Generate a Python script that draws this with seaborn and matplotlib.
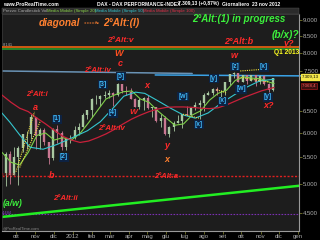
import numpy as np
import pandas as pd
import matplotlib
matplotlib.use("Agg")
import matplotlib.pyplot as plt
import seaborn as sns
from matplotlib.patches import Rectangle, FancyArrowPatch
from matplotlib.ticker import FixedLocator, NullLocator, FixedFormatter

sns.set_theme(style="dark")
plt.rcParams['font.family'] = ['Liberation Sans', 'DejaVu Sans']

# ---------------- data (weekly candles) ----------------
week_end = pd.date_range("2011-09-09", periods=64, freq="W-FRI")
first_open = 5540
week_close = [5190, 5570, 5160, 5500, 5680, 5970, 5970, 6350, 5930, 6060, 5800, 5490, 6080, 5990, 5700, 5880, 5900,
              6060, 6140, 6400, 6510, 6770, 6790, 6850, 6870, 6920, 6880, 7160, 6990, 6950, 6780, 6580, 6760, 6810,
              6560, 6580, 6270, 6340, 5980, 6130, 6230, 6260, 6420, 6410, 6560, 6630, 6690, 6890, 6940, 7040, 6970,
              6970, 7210, 7410, 7450, 7220, 7400, 7230, 7380, 7200, 7360, 7160, 7000, 7310]
week_high = [5560, 5600, 5620, 5710, 5730, 5980, 6050, 6430, 6350, 6120, 6120, 5800, 6120, 6170, 6050, 5900, 5960,
             6150, 6220, 6450, 6520, 6800, 6870, 6870, 6980, 7000, 6950, 7190, 7160, 7110, 7050, 6800, 6810, 6840,
             6870, 6590, 6520, 6420, 6380, 6160, 6270, 6400, 6430, 6610, 6590, 6710, 6750, 6920, 6990, 7060, 7090,
             7000, 7220, 7410, 7480, 7450, 7400, 7400, 7400, 7400, 7380, 7380, 7180, 7310]
week_low = [5180, 4965, 5000, 5150, 4970, 5600, 5670, 5880, 5660, 5660, 5750, 5360, 5450, 5780, 5650, 5650, 5780,
            5880, 5960, 6140, 6300, 6360, 6660, 6620, 6810, 6810, 6620, 6860, 6920, 6880, 6770, 6580, 6530, 6520,
            6540, 6350, 6240, 6140, 5960, 5910, 6040, 6230, 6110, 6400, 6410, 6520, 6320, 6490, 6880, 6870, 6890,
            6840, 6880, 7130, 7320, 7200, 7220, 7150, 7230, 7100, 7150, 7140, 6950, 6990]

ma20_dates = ['2011-09-08', '2011-09-23', '2011-10-07', '2011-10-21', '2011-11-04', '2011-11-18', '2011-12-02',
              '2011-12-16', '2011-12-30', '2012-01-13', '2012-01-27', '2012-02-10', '2012-02-24', '2012-03-09',
              '2012-03-23', '2012-04-06', '2012-04-20', '2012-05-04', '2012-05-18', '2012-06-01', '2012-06-15',
              '2012-06-29', '2012-07-13', '2012-07-27', '2012-08-10', '2012-08-24', '2012-09-07', '2012-09-21',
              '2012-10-05', '2012-10-19', '2012-11-02', '2012-11-16', '2012-11-23']
ma20 = [5600, 5400, 5350, 5600, 5950, 6000, 5850, 5900, 5850, 5990, 6230, 6500, 6780, 6880, 6960, 6980, 6780,
        6700, 6500, 6330, 6170, 6200, 6400, 6500, 6750, 6920, 7000, 7250, 7340, 7310, 7290, 7200, 7170]

ma50_dates = ['2011-09-08', '2011-09-21', '2011-10-07', '2011-10-24', '2011-11-14', '2011-12-07', '2011-12-28',
              '2012-01-25', '2012-02-15', '2012-03-09', '2012-03-24', '2012-04-12', '2012-04-27', '2012-05-18',
              '2012-06-08', '2012-06-29', '2012-07-18', '2012-08-08', '2012-08-29', '2012-09-19', '2012-10-10',
              '2012-10-31', '2012-11-23']
ma50 = [6450, 6240, 5960, 5700, 5660, 5760, 5880, 6050, 6250, 6600, 6850, 6950, 6920, 6740, 6560, 6400, 6330,
        6450, 6680, 6880, 7080, 7240, 7280]

ma100_dates = ['2011-09-08', '2011-09-23', '2011-10-07', '2011-10-21', '2011-11-04', '2011-11-18', '2011-12-02',
               '2011-12-16', '2011-12-30', '2012-01-13', '2012-01-27', '2012-02-10', '2012-02-24', '2012-03-09',
               '2012-03-23', '2012-04-06', '2012-04-20', '2012-05-04', '2012-05-18', '2012-06-01', '2012-06-15',
               '2012-06-29', '2012-07-13', '2012-07-27', '2012-08-10', '2012-08-24', '2012-09-07', '2012-09-21',
               '2012-10-05', '2012-10-19', '2012-11-02', '2012-11-16', '2012-11-23']
ma100 = [6880, 6700, 6560, 6480, 6330, 6200, 6060, 5930, 5850, 5800, 5830, 5900, 5980, 6080, 6200, 6310, 6400,
         6480, 6540, 6580, 6590, 6590, 6580, 6560, 6550, 6570, 6640, 6730, 6820, 6900, 6980, 7040, 7068]

# horizontal levels & trendlines (annotations)
x_span = ['2011-09-08 07:00', '2013-01-02 10:00']
level_q1 = 8165
level_q1_green = 8112
level_alt_a = 5141
level_purple = 4484
support_vals = [4437, 4963]
blue1_dates = ['2011-09-08 07:00', '2012-07-13 00:00']
blue1_vals = [7500, 7433]
blue2_dates = ['2012-05-14 00:00', '2013-02-05 00:00']
blue2_vals = [7393, 7366]
wedge_lines = [
    (['2011-10-01', '2011-10-31'], [5220, 6474]),
    (['2011-10-07', '2011-11-09'], [5300, 6246]),
    (['2012-06-28', '2012-07-24'], [6420, 6330]),
    (['2012-08-22', '2012-09-06'], [7010, 6935]),
    (['2012-09-29', '2012-11-13'], [7500, 7555]),
    (['2012-09-26', '2012-11-13'], [7340, 7210]),
]

month_ticks = pd.date_range("2011-10-01", "2013-01-01", freq="MS")
month_labels = ['ott', 'nov', 'dic', '2012', 'feb', 'mar', 'apr', 'mag', 'giu', 'lug', 'ago', 'set', 'ott',
                'nov', 'dic', 'gen']
y_ticks = [4500, 5000, 5500, 6000, 6500, 7500, 8000, 8500, 9000]
y_labels = ['4.500', '5.000', '5.500', '6.000', '6.500', '7.500', '8.000', '8.500', '9.000']

# ---------------- figure ----------------
W, H = 320, 240
fig = plt.figure(figsize=(3.2, 2.4), dpi=100, facecolor='black')
ax = fig.add_axes([2 / W, 9 / H, 297 / W, 217 / H])
ax.set_facecolor('#1d1d1d')

# candles
opens = [first_open] + week_close[:-1]
up_col, dn_col = '#a9c9a2', '#c97892'
cols = [up_col if c >= o else dn_col for o, c in zip(opens, week_close)]
xc = week_end - pd.Timedelta(days=2)
ax.vlines(xc, week_low, week_high, colors=cols, lw=0.6, zorder=3)
ax.vlines(xc, np.minimum(opens, week_close), np.maximum(opens, week_close), colors=cols, lw=1.7, zorder=3)

# moving averages via seaborn
df20 = pd.DataFrame({'date': pd.to_datetime(ma20_dates), 'v': ma20})
df50 = pd.DataFrame({'date': pd.to_datetime(ma50_dates), 'v': ma50})
df100 = pd.DataFrame({'date': pd.to_datetime(ma100_dates), 'v': ma100})
sns.lineplot(data=df20, x='date', y='v', ax=ax, color='#7fd04a', lw=0.8, zorder=4)
sns.lineplot(data=df50, x='date', y='v', ax=ax, color='#35c6cf', lw=0.8, zorder=4)
sns.lineplot(data=df100, x='date', y='v', ax=ax, color='#c8203a', lw=0.9, zorder=4)

# levels
xs = pd.to_datetime(x_span)
ax.plot(xs, [level_q1_green] * 2, color='#2aa02a', lw=1.1, zorder=6)
ax.plot(xs, [level_q1] * 2, color='#ff6a10', lw=1.1, zorder=6)
ax.plot(xs, [level_alt_a] * 2, color='#e02020', lw=1.0, ls=(0, (1.5, 1.2)), zorder=2)
ax.plot(xs, [level_purple] * 2, color='#7a30b0', lw=0.8, ls=(0, (1.5, 1.2)), zorder=2)
ax.plot(xs, support_vals, color='#22ee22', lw=1.8, zorder=2)
ax.plot(pd.to_datetime(blue1_dates), blue1_vals, color='#6a93b5', lw=1.1, zorder=2)
ax.plot(pd.to_datetime(blue2_dates), blue2_vals, color='#3aa2e6', lw=1.1, zorder=2, clip_on=False)
for d, v in wedge_lines:
    ax.plot(pd.to_datetime(d), v, color='#f0e040', lw=0.8, ls=(0, (1, 1)), zorder=5)

ax.set_yscale('log')
ax.set_ylim(4218, 9206)
ax.set_xlim(xs[0], xs[1])
ax.yaxis.tick_right()
ax.yaxis.set_major_locator(FixedLocator(y_ticks))
ax.yaxis.set_major_formatter(FixedFormatter(y_labels))
ax.yaxis.set_minor_locator(NullLocator())
ax.set_xticks(month_ticks)
ax.set_xticklabels(month_labels)
ax.tick_params(axis='y', colors='#8a8a30', labelcolor='#b0b0b0', labelsize=4.3, length=2, width=0.5, pad=1,
               right=True, left=False)
ax.tick_params(axis='x', colors='#8a8a30', labelcolor='#b0b0b0', labelsize=4.3, length=2, width=0.5, pad=0.5,
               bottom=True)
ax.set_xlabel('')
ax.set_ylabel('')
ax.grid(False)
for s in ['left', 'top']:
    ax.spines[s].set_color('#3a3a3a')
    ax.spines[s].set_linewidth(0.5)
for s in ['right', 'bottom']:
    ax.spines[s].set_color('#9a9a9a')
    ax.spines[s].set_linewidth(0.8)


def ftxt(px, py, s, color, size, ha='center', bold=True, italic=True, **kw):
    fig.text(px / W, 1 - py / H, s, color=color, fontsize=size, ha=ha, va='center',
             fontweight='bold' if bold else 'normal', fontstyle='italic' if italic else 'normal', **kw)


# header
fig.patches.append(Rectangle((2 / W, 1 - 14 / H), 297 / W, 6 / H, transform=fig.transFigure,
                             facecolor='#2b2b2b', edgecolor='#555555', lw=0.3))
ftxt(3, 4, 'www.ProRealTime.com', 'white', 3.6, ha='left', italic=False)
ftxt(97, 4, 'DAX - DAX PERFORMANCE-INDEX', 'white', 3.6, ha='left', italic=False)
ftxt(178, 4, '7.309,13 (+0,87%)', 'white', 3.6, ha='left', italic=False)
ftxt(222, 4, 'Giornaliero  23 nov 2012', 'white', 3.6, ha='left', italic=False)
ftxt(3, 11, 'Prezzo Candlestick Vol', '#aaaaaa', 3.2, ha='left', bold=False, italic=False)
ftxt(47, 11, 'Media Mobile (Simple 20)', '#8ad24a', 3.2, ha='left', bold=False, italic=False)
ftxt(95, 11, 'Media Mobile (Simple 50)', '#35c6cf', 3.2, ha='left', bold=False, italic=False)
ftxt(143, 11, 'Media Mobile (Simple 100)', '#e0304a', 3.2, ha='left', bold=False, italic=False)

RED = '#ff2a2a'
ORG = '#ff8030'
GRN = '#3cf03c'
ftxt(59, 23, 'diagonal', ORG, 7.3)
fig.add_artist(FancyArrowPatch((82 / W, 1 - 23 / H), (102 / W, 1 - 23 / H),
                               transform=fig.transFigure, arrowstyle='->', mutation_scale=4,
                               color=ORG, lw=0.7, ls=':'))
ftxt(121, 23, '2°Alt:(I)', ORG, 7.3)
ftxt(239, 19, '2°Alt:(1) in progress', GRN, 7)
ftxt(285, 35, '(b/x)?', GRN, 7.3)
ftxt(120, 40, '2°Alt:v', RED, 6)
ftxt(239, 42, '2°Alt:b', RED, 6.5)
ftxt(289, 43, 'y?', RED, 6.5)
ftxt(287, 53, 'Q1 2013', '#ffff20', 4.8, italic=False)
ftxt(3, 45, '8.141', '#aaaaaa', 3, ha='left', bold=False, italic=False)
ftxt(119, 53, 'W', '#ff5020', 6.5)
ftxt(234, 56, 'w', RED, 6.5)
ftxt(120, 64, 'c', RED, 6.5)
ftxt(97, 70, '2°Alt:iv', RED, 5.6)
ftxt(37, 94, '2°Alt:i', RED, 5.4)
ftxt(35, 107, 'a', RED, 6.5)
ftxt(147, 86, 'x', RED, 6.5)
ftxt(133, 113, 'W', RED, 6)
ftxt(111, 129, '2°Alt:iv', RED, 5.6)
ftxt(167, 145, 'y', RED, 6.5)
ftxt(167, 159, 'x', ORG, 6.5)
ftxt(52, 175, 'b', RED, 6.5)
ftxt(166, 176, '2°Alt:a', RED, 5.5)
ftxt(2, 175, '5.141,0', '#c02020', 3, ha='left', bold=False, italic=False)
ftxt(65, 199, '2°Alt:ii', RED, 5.6)
ftxt(13, 203, '(a/w)', GRN, 6.3)
ftxt(2, 213, '4.484', '#8040c0', 3, ha='left', bold=False, italic=False)
ftxt(3, 228, '@ProRealTime.com', '#888888', 3, ha='left', bold=False, italic=False)
ftxt(269, 106, 'x?', RED, 6.5)

wave_labels = [(57, 119, '[1]'), (64, 157, '[2]'), (103, 84, '[3]'), (113, 113, '[4]'), (121, 76, '[5]'),
               (183, 96, '[w]'), (199, 124, '[x]'), (214, 78, '[y]'), (223, 101, '[x]'), (235, 66, '[z]'),
               (241, 89, '[w]'), (264, 67, '[x]'), (268, 97, '[y]')]
for px, py, s in wave_labels:
    fig.text(px / W, 1 - py / H, s, color='#40b8f5', fontsize=4.8, ha='center', va='center',
             fontweight='bold', bbox=dict(boxstyle='square,pad=0.15', fc='#0d2242', ec='none'))

# price boxes on the axis
fig.text(302 / W, 1 - 77 / H, '7.309,13', color='black', fontsize=3.2, ha='left', va='center',
         bbox=dict(boxstyle='square,pad=0.15', fc='#f4e84a', ec='#f4e84a'))
fig.text(302 / W, 1 - 86 / H, '7.068,4', color='#ff6060', fontsize=3.2, ha='left', va='center',
         bbox=dict(boxstyle='square,pad=0.15', fc='#3a1010', ec='#c02020', lw=0.4))

fig.savefig('out.png', dpi=100, facecolor=fig.get_facecolor())
